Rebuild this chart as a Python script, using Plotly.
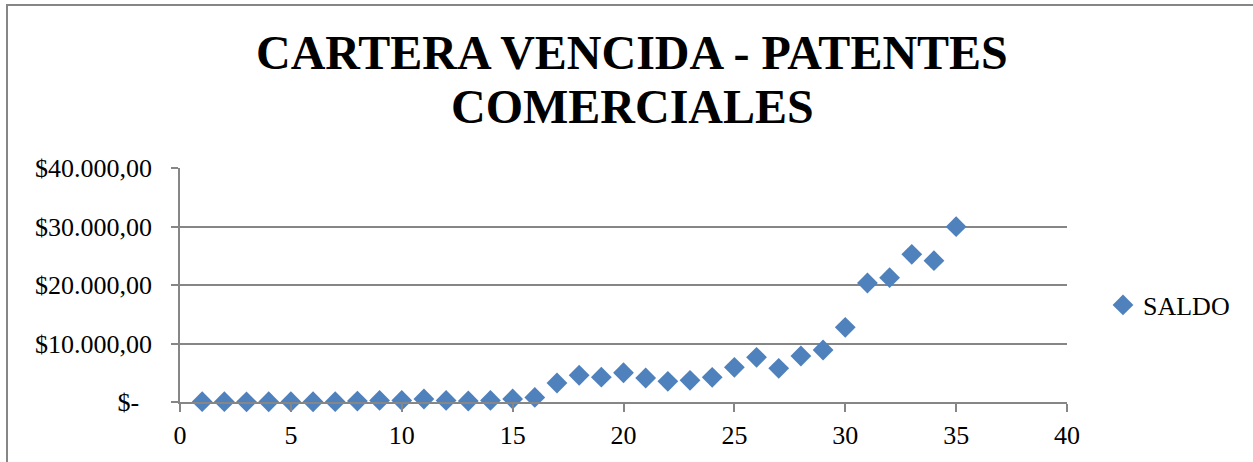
import plotly.graph_objects as go

# Data
periodo = list(range(1, 36))
saldo = [50, 50, 30, 40, 60, 40, 60, 150, 270, 270,
         510, 270, 170, 270, 510, 790, 3250, 4570, 4240, 5000,
         4100, 3530, 3700, 4220, 5930, 7640, 5760, 7860, 8890, 12770,
         20340, 21250, 25240, 24150, 29970]
y_tickvals = [0, 10000, 20000, 30000, 40000]
y_ticktext = ["$-\u00a0\u00a0", "$10.000,00", "$20.000,00", "$30.000,00", "$40.000,00"]
x_tickvals = [0, 5, 10, 15, 20, 25, 30, 35, 40]
serie = "SALDO"
titulo_1 = "CARTERA VENCIDA - PATENTES"
titulo_2 = "COMERCIALES"

W, H = 1253, 462
L, R, T, B = 180, 1253 - 1067, 168, 462 - 402
PW, PH = W - L - R, H - T - B

FONT = "Liberation Serif, Times New Roman, serif"
GRID = "#868686"
BLUE = "#4F81BD"

fig = go.Figure()
fig.add_trace(go.Scatter(
    x=periodo, y=saldo, mode="markers", name=serie,
    marker=dict(symbol="diamond", size=16, color=BLUE, line=dict(width=0)),
    cliponaxis=False,
))

def px_to_paper_x(px):
    return (px - L) / PW

def px_to_paper_y(py):
    return (H - B - py) / PH

fig.update_layout(
    width=W, height=H,
    margin=dict(l=L, r=R, t=T, b=B, pad=0),
    paper_bgcolor="white", plot_bgcolor="white",
    font=dict(family=FONT, size=26, color="black"),
    showlegend=True,
    legend=dict(
        x=px_to_paper_x(1103), y=px_to_paper_y(305),
        xanchor="left", yanchor="middle",
        font=dict(family=FONT, size=26, color="black"),
        bgcolor="rgba(0,0,0,0)",
    ),
    xaxis=dict(
        range=[0, 40], tickvals=x_tickvals, ticks="outside", ticklen=8,
        tickcolor=GRID, tickwidth=1.5, showline=True, linecolor=GRID, linewidth=1.5,
        showgrid=False, zeroline=False, ticklabelstandoff=1,
        tickfont=dict(family=FONT, size=26, color="black"),
    ),
    yaxis=dict(
        range=[0, 40000], tickvals=y_tickvals, ticktext=y_ticktext,
        ticks="outside", ticklen=7, tickcolor=GRID, tickwidth=1.5,
        showline=True, linecolor=GRID, linewidth=1.5,
        showgrid=True, gridcolor=GRID, gridwidth=1.5, zeroline=False,
        ticklabelstandoff=14,
        tickfont=dict(family=FONT, size=26, color="black"),
    ),
    annotations=[
        dict(text="<b>" + titulo_1 + "</b>", xref="paper", yref="paper",
             x=px_to_paper_x(632), y=px_to_paper_y(52), xanchor="center", yanchor="middle",
             showarrow=False, font=dict(family=FONT, size=48, color="black")),
        dict(text="<b>" + titulo_2 + "</b>", xref="paper", yref="paper",
             x=px_to_paper_x(632), y=px_to_paper_y(106), xanchor="center", yanchor="middle",
             showarrow=False, font=dict(family=FONT, size=48, color="black")),
    ],
    shapes=[
        dict(type="rect", xref="paper", yref="paper",
             x0=px_to_paper_x(7), x1=px_to_paper_x(1265),
             y0=px_to_paper_y(475), y1=px_to_paper_y(5),
             line=dict(color=GRID, width=2), fillcolor="rgba(0,0,0,0)", layer="below"),
    ],
)

fig.write_html(
    "out.html",
    config={"displayModeBar": False},
    post_script="document.body.style.margin='0';document.body.style.padding='0';document.body.style.overflow='hidden';",
)
